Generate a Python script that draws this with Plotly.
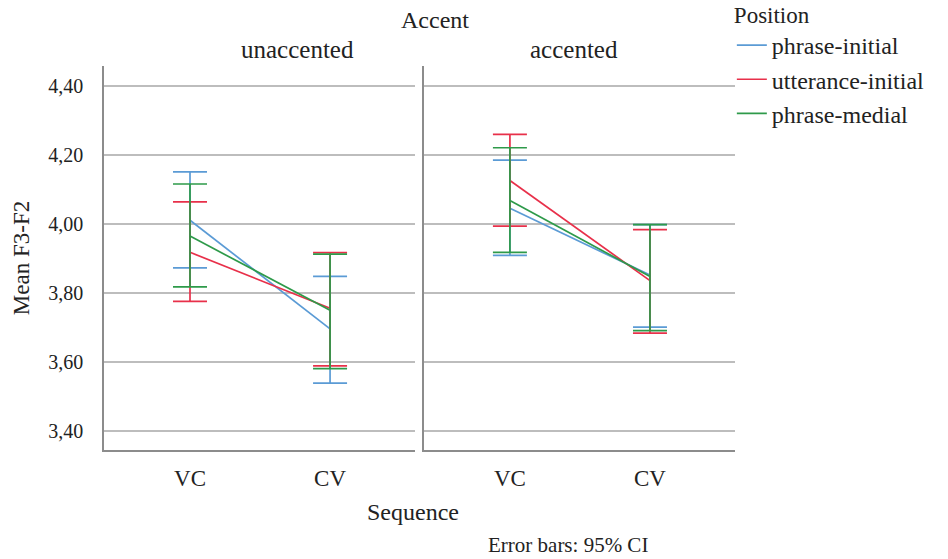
import plotly.graph_objects as go

# Mean F3-F2 by sequence, faceted by accent, one line per prosodic position
sequences = ["VC", "CV"]
accent_levels = ["unaccented", "accented"]
positions = ["phrase-initial", "utterance-initial", "phrase-medial"]
colors = {"phrase-initial": "#5b9bd5", "utterance-initial": "#e8304a", "phrase-medial": "#2e9a4a"}

# means per accent level: [VC, CV]
means = {
    "unaccented": {
        "phrase-initial": [4.011, 3.696],
        "utterance-initial": [3.918, 3.756],
        "phrase-medial": [3.965, 3.750],
    },
    "accented": {
        "phrase-initial": [4.046, 3.852],
        "utterance-initial": [4.126, 3.836],
        "phrase-medial": [4.068, 3.848],
    },
}
# 95% CI upper / lower bounds: [VC, CV]
ci_upper = {
    "unaccented": {
        "phrase-initial": [4.151, 3.848],
        "utterance-initial": [4.064, 3.917],
        "phrase-medial": [4.116, 3.913],
    },
    "accented": {
        "phrase-initial": [4.185, 3.998],
        "utterance-initial": [4.260, 3.984],
        "phrase-medial": [4.221, 3.998],
    },
}
ci_lower = {
    "unaccented": {
        "phrase-initial": [3.873, 3.539],
        "utterance-initial": [3.776, 3.589],
        "phrase-medial": [3.818, 3.581],
    },
    "accented": {
        "phrase-initial": [3.909, 3.701],
        "utterance-initial": [3.994, 3.684],
        "phrase-medial": [3.918, 3.691],
    },
}
y_ticks = [3.40, 3.60, 3.80, 4.00, 4.20, 4.40]

FONT = "Liberation Serif"
TXT = "#222222"
fig = go.Figure()

for i, acc in enumerate(accent_levels):
    xa = "x" if i == 0 else "x2"
    ya = "y" if i == 0 else "y2"
    for pos in positions:
        m = means[acc][pos]
        up = [u - v for u, v in zip(ci_upper[acc][pos], m)]
        lo = [v - l for l, v in zip(ci_lower[acc][pos], m)]
        fig.add_trace(go.Scatter(
            x=[0, 1], y=m, mode="lines", name=pos,
            line=dict(color=colors[pos], width=1.7),
            error_y=dict(type="data", symmetric=False, array=up, arrayminus=lo,
                         color=colors[pos], thickness=1.7, width=17),
            xaxis=xa, yaxis=ya, showlegend=(i == 0), legendgroup=pos,
        ))

axis_common = dict(
    tickmode="array", tickvals=[0, 1], ticktext=sequences, range=[-0.614, 1.607],
    showgrid=False, zeroline=False, showline=True, linecolor="#8c8c8c", linewidth=1.5,
    ticks="", ticklabelstandoff=7, tickfont=dict(family=FONT, size=23, color=TXT),
)
yaxis_common = dict(
    range=[3.345, 4.458], tickvals=y_ticks, tickformat=".2f",
    showgrid=True, gridcolor="#bdbdbd", gridwidth=1.8, zeroline=False,
    showline=True, linecolor="#8c8c8c", linewidth=1.5, ticks="",
)


def label(text, x, y, size):
    return dict(text=text, x=x, y=y, xref="paper", yref="paper", xanchor="center",
                yanchor="middle", showarrow=False, font=dict(family=FONT, size=size, color=TXT))


fig.update_layout(
    width=948, height=559,
    margin=dict(l=104, r=213, t=66, b=109, autoexpand=False),
    paper_bgcolor="white", plot_bgcolor="white",
    separators=", ",
    font=dict(family=FONT, size=22, color=TXT),
    xaxis=dict(domain=[0, 0.493], **axis_common),
    xaxis2=dict(domain=[0.507, 1.0], **axis_common),
    yaxis=dict(title=dict(text="Mean F3-F2", font=dict(family=FONT, size=23, color=TXT), standoff=12),
               ticklabelstandoff=15, tickfont=dict(family=FONT, size=20, color=TXT),
               **yaxis_common),
    yaxis2=dict(anchor="x2", showticklabels=False, **yaxis_common),
    legend=dict(
        title=dict(text="Position", font=dict(family=FONT, size=23, color=TXT)),
        x=0.995, xanchor="left", y=1.19, yanchor="top",
        font=dict(family=FONT, size=24, color=TXT),
        itemwidth=30, tracegroupgap=0, bgcolor="rgba(0,0,0,0)",
    ),
    annotations=[
        label("Accent", 0.525, 1.12, 24),
        label("unaccented", 0.307, 1.042, 25),
        label("accented", 0.745, 1.042, 25),
        label("Sequence", 0.49, -0.161, 24),
        label("Error bars: 95% CI", 0.735, -0.247, 21),
    ],
)

fig.write_html("out.html")
